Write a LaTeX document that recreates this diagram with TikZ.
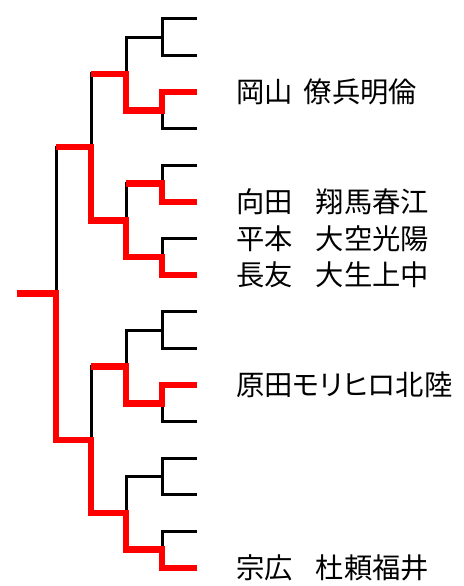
\documentclass[tikz,border=0pt]{standalone}
\usepackage{fontspec}
\newfontfamily\jp{Noto Sans CJK JP}
\newfontfamily\jpp[RawFeature=+palt]{Noto Sans CJK JP}
\begin{document}
\begin{tikzpicture}[x=1pt,y=-1pt,
  blk/.style={line width=3pt,black,line join=miter},
  win/.style={line width=6.5pt,red,line join=miter},
  lbl/.style={anchor=west,inner sep=0pt,font=\jp\fontsize{28.3}{30}\selectfont}]
\useasboundingbox (0,0) rectangle (463,586);
% leaf ends
\foreach \k in {0,...,15} \coordinate (L\k) at (197,{19+36.6*\k});
% first round matches
\foreach \j in {0,...,7} \coordinate (a\j) at (162,{19+36.6*(2*\j+0.5)});
% second round
\foreach \j in {0,...,3} \coordinate (b\j) at (126,{19+36.6*(4*\j+1.5)});
% semi-finals
\foreach \j in {0,1} \coordinate (c\j) at (91,{19+36.6*(8*\j+3.5)});
% final
\coordinate (d) at (56,{19+36.6*7.5});
\coordinate (R) at (17,{19+36.6*7.5});
% black bracket
\foreach \k in {0,...,15}{
  \pgfmathtruncatemacro{\j}{\k/2}
  \draw[blk] (L\k) -| (a\j);}
\foreach \k in {0,...,7}{
  \pgfmathtruncatemacro{\j}{\k/2}
  \draw[blk] (a\k) -| (b\j);}
\foreach \k in {0,...,3}{
  \pgfmathtruncatemacro{\j}{\k/2}
  \draw[blk] (b\k) -| (c\j);}
\draw[blk] (c0) -| (d);
\draw[blk] (c1) -| (d);
\draw[blk] (d) -- (R);
% winners
\draw[win] (L2) -| (a1) -| (b0) -- (b0 -| c0);
\draw[win] (L5) -| (a2) -- (a2 -| b1);
\draw[win] (L7) -| (a3) -| (b1) -| (c0) -- (c0 -| d);
\draw[win] (L10) -| (a5) -| (b2) -- (b2 -| c1);
\draw[win] (L15) -| (a7) -| (b3) -| (c1) -| (d) -- (R);
% labels
\node[lbl] (n2) at (236,{19+36.6*2}) {岡山\hspace{11pt}僚兵明倫};
\node[lbl] (n5) at (236,{19+36.6*5}) {向田\hspace{23pt}翔馬春江};
\node[lbl] (n6) at (236,{19+36.6*6}) {平本\hspace{23pt}大空光陽};
\node[lbl] (n7) at (236,{19+36.6*7}) {長友\hspace{23pt}大生上中};
\node[lbl] (n10) at (236,{19+36.6*10}) {原田{\jpp モリヒロ}北陸};
\node[lbl] (n15) at (236,{19+36.6*15}) {宗広\hspace{23pt}杜頼福井};
\end{tikzpicture}
\end{document}
